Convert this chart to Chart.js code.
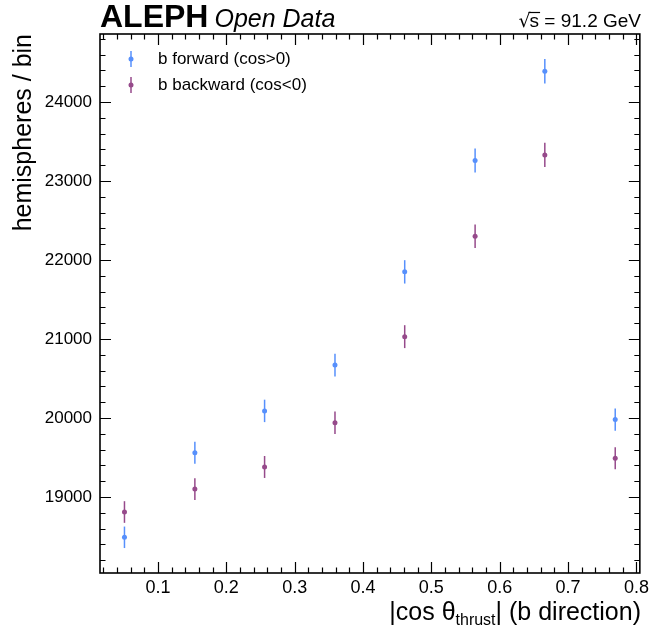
<!DOCTYPE html>
<html lang="en">
<head>
  <meta charset="UTF-8">
  <title>ALEPH b hemispheres</title>
  <script src="https://cdn.jsdelivr.net/npm/chart.js"></script>
  <style>
    body { margin: 0; background: #fff; }
    #wrap { width: 653px; height: 630px; }
  </style>
</head>
<body>
  <div id="wrap"><canvas id="chart" width="653" height="630"></canvas></div>

  <script>
    // bin centres of |cos theta_thrust| (8 bins from 0 to 0.82)
    const xBins = [0.051, 0.154, 0.256, 0.359, 0.461, 0.564, 0.666, 0.769];
    const forward = [18490, 19560, 20090, 20670, 21850, 23260, 24390, 19980];
    const forwardErr = [136, 140, 142, 144, 148, 153, 156, 141];
    const backward = [18810, 19100, 19380, 19940, 21030, 22300, 23330, 19490];
    const backwardErr = [137, 138, 139, 141, 145, 149, 153, 140];
    const xTicks = [0.1, 0.2, 0.3, 0.4, 0.5, 0.6, 0.7, 0.8];
    const yTicks = [19000, 20000, 21000, 22000, 23000, 24000];
    const seriesNames = ['b forward (cos>0)', 'b backward (cos<0)'];
    const seriesColors = ['#5790fc', '#964a8b'];

    const FONT = '"Liberation Sans", Arial, sans-serif';

    function points(vals, errs) {
      return xBins.map((x, i) => ({ x: x, y: vals[i], err: errs[i] }));
    }

    const errorBars = {
      id: 'errorBars',
      beforeDatasetsDraw(chart) {
        const ctx = chart.ctx;
        const ys = chart.scales.y;
        chart.data.datasets.forEach((ds, di) => {
          const meta = chart.getDatasetMeta(di);
          ctx.save();
          ctx.strokeStyle = ds.borderColor;
          ctx.lineWidth = 1.5;
          meta.data.forEach((pt, i) => {
            const d = ds.data[i];
            ctx.beginPath();
            ctx.moveTo(pt.x, ys.getPixelForValue(d.y - d.err));
            ctx.lineTo(pt.x, ys.getPixelForValue(d.y + d.err));
            ctx.stroke();
          });
          ctx.restore();
        });
      }
    };

    function minorRange(from, to, step) {
      const out = [];
      for (let v = Math.ceil(from / step) * step; v <= to + 1e-9; v += step) out.push(v);
      return out;
    }

    const frameAndText = {
      id: 'frameAndText',
      afterDraw(chart) {
        const ctx = chart.ctx;
        const a = chart.chartArea;
        const xs = chart.scales.x, ys = chart.scales.y;
        ctx.save();
        ctx.strokeStyle = '#000';
        ctx.lineWidth = 1.2;
        // major and minor ticks, inside, on all four sides
        minorRange(xs.min, xs.max, 0.02).forEach(v => {
          const px = Math.round(xs.getPixelForValue(v)) + 0.5;
          const major = Math.abs(v * 10 - Math.round(v * 10)) < 1e-6;
          const len = major ? 11 : 5.5;
          ctx.beginPath();
          ctx.moveTo(px, a.bottom); ctx.lineTo(px, a.bottom - len);
          ctx.moveTo(px, a.top); ctx.lineTo(px, a.top + len);
          ctx.stroke();
        });
        minorRange(ys.min, ys.max, 200).forEach(v => {
          const py = Math.round(ys.getPixelForValue(v)) + 0.5;
          const major = v % 1000 === 0;
          const len = major ? 11 : 5.5;
          ctx.beginPath();
          ctx.moveTo(a.left, py); ctx.lineTo(a.left + len, py);
          ctx.moveTo(a.right, py); ctx.lineTo(a.right - len, py);
          ctx.stroke();
        });
        // frame
        ctx.lineWidth = 1.6;
        ctx.strokeRect(a.left, a.top, a.right - a.left, a.bottom - a.top);

        // legend
        ctx.textBaseline = 'middle';
        seriesNames.forEach((name, i) => {
          const y = 59 + i * 26;
          ctx.strokeStyle = seriesColors[i];
          ctx.fillStyle = seriesColors[i];
          ctx.lineWidth = 1.5;
          ctx.beginPath();
          ctx.moveTo(131, y - 8); ctx.lineTo(131, y + 8);
          ctx.stroke();
          ctx.beginPath();
          ctx.arc(131, y, 2.5, 0, Math.PI * 2);
          ctx.fill();
          ctx.fillStyle = '#000';
          ctx.font = '17px ' + FONT;
          ctx.textAlign = 'left';
          ctx.fillText(name, 158, y);
        });

        // header
        ctx.textBaseline = 'alphabetic';
        ctx.textAlign = 'left';
        ctx.font = 'bold 32px ' + FONT;
        ctx.fillText('ALEPH', 100, 27);
        const w = ctx.measureText('ALEPH').width;
        ctx.font = 'italic 25px ' + FONT;
        ctx.fillText('Open Data', 100 + w + 6, 27);

        ctx.font = '19px ' + FONT;
        ctx.textAlign = 'right';
        const rest = ' = 91.2 GeV';
        ctx.fillText(rest, 641, 27);
        const rw = ctx.measureText(rest).width;
        const sw = ctx.measureText('s').width;
        const sx = 641 - rw - sw;
        ctx.textAlign = 'left';
        ctx.fillText('s', sx, 27);
        ctx.font = '19px "DejaVu Sans", sans-serif';
        const qw = ctx.measureText('\u221A').width;
        ctx.fillText('\u221A', sx - qw + 1, 27);
        ctx.lineWidth = 1.2;
        ctx.strokeStyle = '#000';
        ctx.beginPath();
        ctx.moveTo(sx - 1, 12.5); ctx.lineTo(sx + sw + 1, 12.5);
        ctx.stroke();

        // x axis title with subscript, right aligned
        const base = 620;
        ctx.font = '16px ' + FONT;
        const subW = ctx.measureText('thrust').width;
        ctx.font = '25px ' + FONT;
        const p1 = '|cos \u03B8', p3 = '| (b direction)';
        const w1 = ctx.measureText(p1).width, w3 = ctx.measureText(p3).width;
        const x0 = 641 - (w1 + subW + w3);
        ctx.fillText(p1, x0, base);
        ctx.fillText(p3, x0 + w1 + subW, base);
        ctx.font = '16px ' + FONT;
        ctx.fillText('thrust', x0 + w1, base + 5);

        // y axis title, aligned to top
        ctx.font = '25px ' + FONT;
        ctx.save();
        ctx.translate(31, a.top);
        ctx.rotate(-Math.PI / 2);
        ctx.textAlign = 'right';
        ctx.fillText('hemispheres / bin', 0, 0);
        ctx.restore();
        ctx.restore();
      }
    };

    new Chart(document.getElementById('chart').getContext('2d'), {
      type: 'scatter',
      data: {
        datasets: [
          { label: seriesNames[0], data: points(forward, forwardErr), borderColor: seriesColors[0], backgroundColor: seriesColors[0], pointRadius: 2.5, pointBorderWidth: 0 },
          { label: seriesNames[1], data: points(backward, backwardErr), borderColor: seriesColors[1], backgroundColor: seriesColors[1], pointRadius: 2.5, pointBorderWidth: 0 }
        ]
      },
      options: {
        responsive: false,
        animation: false,
        layout: { padding: { top: 34, right: 12, left: 0, bottom: 0 } },
        plugins: { legend: { display: false }, tooltip: { enabled: false } },
        scales: {
          x: {
            type: 'linear', min: 0.0152, max: 0.805,
            afterBuildTicks: s => { s.ticks = xTicks.map(v => ({ value: v })); },
            afterFit: s => { s.height = 57; },
            grid: { display: false, drawTicks: false },
            border: { display: false },
            ticks: { color: '#000', font: { size: 18, family: FONT }, padding: 4, maxRotation: 0, callback: v => v.toFixed(1) }
          },
          y: {
            type: 'linear', min: 18038, max: 24861,
            afterBuildTicks: s => { s.ticks = yTicks.map(v => ({ value: v })); },
            afterFit: s => { s.width = 100; },
            grid: { display: false, drawTicks: false },
            border: { display: false },
            ticks: { color: '#000', font: { size: 17, family: FONT }, padding: 8, callback: v => String(v) }
          }
        }
      },
      plugins: [errorBars, frameAndText]
    });
  </script>
</body>
</html>
